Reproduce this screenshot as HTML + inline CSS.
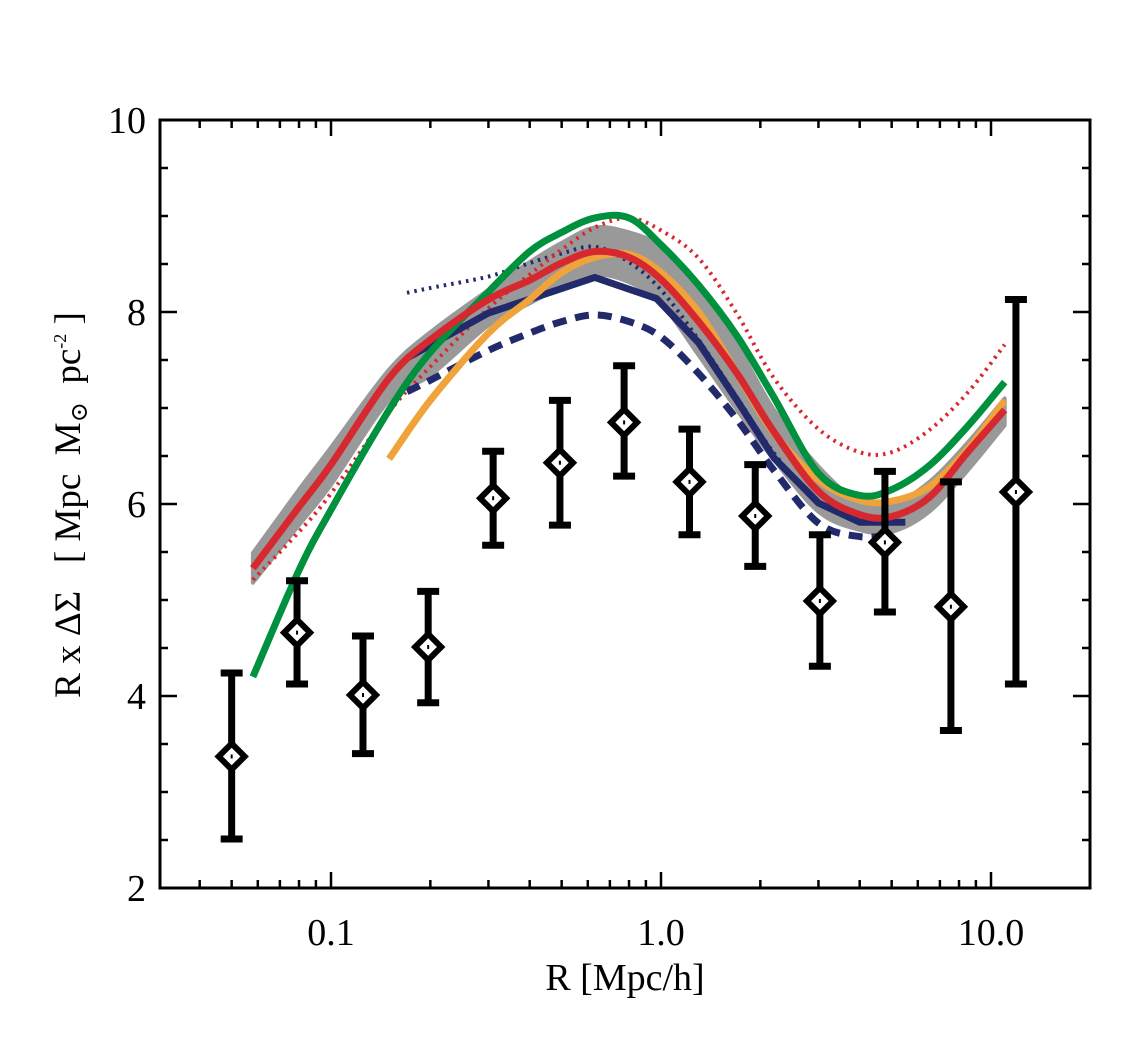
<!DOCTYPE html>
<html><head><meta charset="utf-8"><style>
html,body{margin:0;padding:0;background:#fff;}
svg{display:block;}
text{font-family:"Liberation Serif",serif;fill:#000;}
</style></head><body>
<svg id="chart" width="1134" height="1044" viewBox="0 0 1134 1044">
<g id="plot"></g>
</svg>
<script>
const xTickLabels=["0.1","1.0","10.0"];
const xTickValues=[0.1,1,10];
const yTickValues=[2,4,6,8,10];
const yTickLabels=["2","4","6","8","10"];

const obsR=[0.050,0.0789,0.125,0.197,0.31,0.494,0.773,1.22,1.93,3.03,4.77,7.56,11.9];
const obsV=[3.37,4.66,4.01,4.51,6.06,6.43,6.85,6.23,5.875,4.99,5.60,4.93,6.125];
const obsLo=[2.51,4.125,3.40,3.93,5.57,5.78,6.29,5.68,5.35,4.31,4.875,3.64,4.125];
const obsHi=[4.24,5.20,4.625,5.09,6.55,7.08,7.44,6.78,6.41,5.68,6.34,6.23,8.13];

const gridR=[0.058,0.08,0.1,0.15,0.2,0.3,0.4,0.5,0.63,0.8,1.0,1.3,1.7,2.2,3,4,5,6.5,8.5,11];
const bandUpper=[5.49,6.15,6.59,7.40,7.79,8.23,8.52,8.72,8.88,8.83,8.68,8.28,7.66,6.98,6.39,6.02,5.99,6.23,6.64,7.10];
const bandLower=[5.18,5.78,6.20,7.08,7.34,7.86,8.09,8.26,8.39,8.31,8.09,7.55,6.98,6.46,5.92,5.73,5.71,5.92,6.35,6.82];
const redSolid=[5.33,5.97,6.41,7.31,7.71,8.13,8.33,8.51,8.63,8.57,8.34,7.90,7.36,6.75,6.13,5.89,5.87,6.07,6.54,6.98];
const greenSolid=[4.20,5.31,5.94,6.98,7.58,8.21,8.63,8.83,8.98,8.98,8.70,8.28,7.75,7.11,6.32,6.09,6.15,6.40,6.81,7.27];
const redDotted=[5.21,5.71,6.11,6.96,7.43,8.04,8.39,8.65,8.88,8.98,8.85,8.56,7.98,7.31,6.78,6.54,6.54,6.77,7.16,7.66];
const orangeR=[0.15,0.2,0.3,0.4,0.5,0.63,0.8,1.0,1.3,1.7,2.2,3,4,5,6.5,8.5,11];
const orangeSolid=[6.47,7.08,7.78,8.13,8.41,8.57,8.60,8.41,8.0,7.36,6.74,6.25,6.04,6.03,6.18,6.57,7.08];
const navyR=[0.17,0.2,0.3,0.4,0.5,0.63,0.8,1.0,1.3,1.7,2.2,3,4,5,5.5];
const navySolid=[7.52,7.66,7.99,8.13,8.23,8.36,8.23,8.10,7.68,7.08,6.48,6.01,5.81,5.80,5.81];
const navyPolyR=[0.17,0.3,0.63,0.97,1.3,1.7,2.2,3,4,5.5];
const navyPoly=[7.52,7.99,8.36,8.14,7.68,7.08,6.48,6.01,5.81,5.81];
const navyDashR=[0.17,0.2,0.3,0.4,0.5,0.63,0.8,1.0,1.3,1.7,2.2,3,4,5];
const navyDashed=[7.17,7.29,7.60,7.78,7.90,7.97,7.90,7.74,7.36,6.88,6.35,5.80,5.66,5.68];
const navyDotted=[8.20,8.25,8.37,8.51,8.61,8.68,8.52,8.23,7.71,7.11,6.53,6.01,5.90,5.83];

const L=160,R=1090,T=120,B=888;
function xs(r){return 661+330*Math.log10(r);}
function ys(v){return B-(v-2)*(B-T)/8;}
const NS="http://www.w3.org/2000/svg";
const g=document.getElementById('plot');
function mk(tag,attrs,parent){const e=document.createElementNS(NS,tag);for(const k in attrs)e.setAttribute(k,attrs[k]);(parent||g).appendChild(e);return e;}
function smooth(rs,vs,start){
  const P=rs.map((r,i)=>[xs(r),ys(vs[i])]);
  let d=(start?'M':'L')+P[0][0].toFixed(1)+','+P[0][1].toFixed(1);
  for(let i=0;i<P.length-1;i++){
    const p0=P[Math.max(0,i-1)],p1=P[i],p2=P[i+1],p3=P[Math.min(P.length-1,i+2)];
    const c1=[p1[0]+(p2[0]-p0[0])/6,p1[1]+(p2[1]-p0[1])/6];
    const c2=[p2[0]-(p3[0]-p1[0])/6,p2[1]-(p3[1]-p1[1])/6];
    d+=` C${c1[0].toFixed(1)},${c1[1].toFixed(1)} ${c2[0].toFixed(1)},${c2[1].toFixed(1)} ${p2[0].toFixed(1)},${p2[1].toFixed(1)}`;
  }
  return d;
}
function straight(rs,vs){return 'M'+rs.map((r,i)=>xs(r).toFixed(1)+','+ys(vs[i]).toFixed(1)).join(' L');}

let band=mk('path',{d:smooth(gridR,bandUpper,true)+' '+smooth(gridR.slice().reverse(),bandLower.slice().reverse(),false)+'Z',fill:'#999',stroke:'#999','stroke-width':4,'stroke-linejoin':'round'});



function line(d,color,w,dash,name){
  const p=mk('path',{d:d,fill:'none',stroke:color,'stroke-width':w,'stroke-linejoin':'round'});
  if(dash)p.setAttribute('stroke-dasharray',dash);
  
  
}
line(smooth(navyR,navyDotted,true),'#222a6b',4,'2.5 5','navy-dotted-model');
line(smooth(gridR,redDotted,true),'#d7282f',4,'2.5 5','red-dotted-model');
line(smooth(navyDashR,navyDashed,true),'#222a6b',7,'14 9','navy-dashed-model');
line(straight(navyPolyR,navyPoly),'#222a6b',7,null,'navy-solid-model');
line(smooth(orangeR,orangeSolid,true),'#f0a33a',7,null,'orange-model');
line(smooth(gridR,greenSolid,true),'#00913f',7,null,'green-model');
line(smooth(gridR,redSolid,true),'#d7282f',7,null,'red-model');

obsR.forEach((r,i)=>{
  const x=xs(r),y=ys(obsV[i]),y1=ys(obsHi[i]),y2=ys(obsLo[i]);
  const grp=mk('g',{});
  
  
  mk('line',{x1:x,x2:x,y1:y1,y2:y2,stroke:'#000','stroke-width':7},grp);
  mk('line',{x1:x-11,x2:x+11,y1:y1,y2:y1,stroke:'#000','stroke-width':7},grp);
  mk('line',{x1:x-11,x2:x+11,y1:y2,y2:y2,stroke:'#000','stroke-width':7},grp);
  mk('polygon',{points:`${x-13},${y} ${x},${y-13} ${x+13},${y} ${x},${y+13}`,fill:'#fff',stroke:'#000','stroke-width':6},grp);
  mk('rect',{x:x-1,y:y-2,width:2,height:4,fill:'#000'},grp);
});

const fr=mk('rect',{x:L,y:T,width:R-L,height:B-T,fill:'none',stroke:'#000','stroke-width':3});



for(let d=-2;d<=1;d++){
  for(let m=1;m<=9;m++){
    const v=m*Math.pow(10,d);const x=xs(v);
    if(x<L+2||x>R-2)continue;
    const len=m===1?16:8;
    mk('line',{x1:x,x2:x,y1:B,y2:B-len,stroke:'#000','stroke-width':2.5});
    mk('line',{x1:x,x2:x,y1:T,y2:T+len,stroke:'#000','stroke-width':2.5});
  }
}
xTickValues.forEach((v,i)=>{
  const t=mk('text',{x:xs(v),y:B+57,'font-size':38,'text-anchor':'middle'});
  t.textContent=xTickLabels[i];
  
  
});
for(let v=2;v<=10;v+=0.5){
  const y=ys(v);const major=Math.abs(v-Math.round(v/2)*2)<1e-6;
  const len=major?17:8;
  mk('line',{x1:L,x2:L+len,y1:y,y2:y,stroke:'#000','stroke-width':2.5});
  mk('line',{x1:R,x2:R-len,y1:y,y2:y,stroke:'#000','stroke-width':2.5});
}
yTickValues.forEach((v,i)=>{
  const t=mk('text',{x:L-14,y:ys(v)+13,'font-size':38,'text-anchor':'end'});
  t.textContent=yTickLabels[i];
  
  
});
</script>
<svg style="position:absolute;left:0;top:0" width="1134" height="1044">
<text x="625" y="990" font-size="38" text-anchor="middle" style="font-family:'Liberation Serif',serif">R [Mpc/h]</text>
<text transform="translate(80,505) rotate(-90)" font-size="37" text-anchor="middle" style="font-family:'Liberation Serif','DejaVu Serif',serif" xml:space="preserve">R x ΔΣ   [ Mpc  M<tspan font-size="24" dy="7">⊙</tspan><tspan dy="-7">  pc</tspan><tspan font-size="18" dy="-14">-2</tspan><tspan dy="14"> ]</tspan></text>
</svg>
</body></html>
